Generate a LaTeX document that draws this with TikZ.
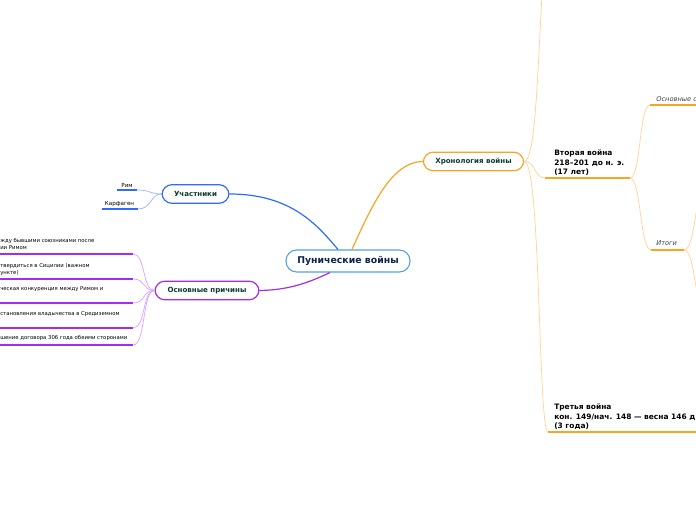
\documentclass[tikz,border=0pt]{standalone}
\usepackage{fontspec}
\setmainfont{DejaVu Sans}
\definecolor{cblue}{HTML}{2F6BFF}
\definecolor{cbluel}{HTML}{9DB8FF}
\definecolor{cpurp}{HTML}{A52BF2}
\definecolor{cpurpl}{HTML}{D9A6FA}
\definecolor{corng}{HTML}{F5A623}
\definecolor{corngl}{HTML}{FDD49A}
\definecolor{ccenter}{HTML}{4DA3E0}
\definecolor{tnavy}{HTML}{0B2350}
\definecolor{tgreen}{HTML}{0E3B30}
\tikzset{
  topic/.style={draw, line width=0.9pt, rounded corners=7.5pt, fill=white, minimum height=14pt, inner xsep=9pt, font=\fontsize{5.3}{6}\selectfont\bfseries},
  leaf/.style={inner sep=0pt, font=\fontsize{4.0}{5.3}\selectfont, align=left},
  bigleaf/.style={inner sep=0pt, font=\fontsize{5.6}{6.8}\selectfont\bfseries, align=left},
  ital/.style={inner sep=0pt, font=\fontsize{5}{6}\selectfont\itshape, text=black!75},
  uline/.style={line width=1.3pt},
  conn/.style={line width=0.55pt},
}
\begin{document}
\begin{tikzpicture}[x=0.75pt,y=-0.75pt]
\useasboundingbox (0,0) rectangle (696,520);
% central
\node[draw=ccenter, line width=0.8pt, rounded corners=8pt, fill=white, minimum width=93pt, minimum height=16.5pt, text=tnavy, font=\fontsize{7}{8}\selectfont\bfseries] (center) at (348,261) {Пунические войны};
% main topics
\node[topic, draw=cblue, text=tgreen, minimum width=49pt] (uch) at (195.5,194) {Участники};
\node[topic, draw=cpurp, text=tgreen, minimum width=78pt] (prich) at (207,290.5) {Основные причины};
\node[topic, draw=corng, text=tgreen, minimum width=74pt] (chron) at (473.5,161.5) {Хронология войны};
% main connectors
\draw[cblue, line width=0.9pt] (center.north -| 338,0) .. controls (318,226) and (292,194) .. (uch.east);
\draw[cpurp, line width=0.9pt] (center.south -| 330,0) .. controls (310,282) and (290,290) .. (prich.east);
\draw[corng, line width=0.9pt] (center.north -| 352,0) .. controls (372,205) and (392,161.5) .. (chron.west);
% participants
\coordinate (rimE) at (137,190);
\coordinate (karE) at (138,209);
\draw[cblue, uline] (117,190) -- (rimE);
\draw[cblue, uline] (102,209) -- (karE);
\node[leaf, font=\fontsize{4.2}{5}\selectfont] (rim) at (127,185) {Рим};
\node[leaf, font=\fontsize{4.2}{5}\selectfont] (kar) at (119.5,204) {Карфаген};
\draw[cbluel, conn] (rimE) .. controls (150,190) and (150,194) .. (uch.west);
\draw[cbluel, conn] (karE) .. controls (152,209) and (150,194) .. (uch.west);
% causes
\node[leaf, anchor=north west] (c1) at (0,238) {жду бывшими союзниками после\\ии Римом};
\node[leaf, anchor=north west] (c2) at (0,263) {твердиться в Сицилии (важном\\ункте)};
\node[leaf, anchor=north west] (c3) at (0,286) {ческая конкуренция между Римом и};
\node[leaf, anchor=north west] (c4) at (0,311) {становления владычества в Средиземном};
\node[leaf, anchor=north west] (c5) at (0,335) {шение договора 306 года обеими сторонами};
\foreach \y/\n in {254/1,279/2,303/3,328/4,345/5}{
  \coordinate (u\n) at (133,\y);
  \draw[cpurp, uline] (-2,\y) -- (u\n);
  \draw[cpurpl, conn] (u\n) .. controls (146,\y) and (142,290.5) .. (prich.west);
}
% chronology children
\coordinate (topchild) at (548,-60);
\draw[corngl, conn] (chron.east) .. controls (540,161.5) and (538,-20) .. (topchild);
\node[bigleaf, anchor=north west] (w2) at (554,150) {Вторая война\\218–201 до н. э.\\(17 лет)};
\coordinate (w2s) at (545,178);
\coordinate (w2e) at (630,178);
\draw[corng, uline] (w2s) -- (w2e);
\draw[corngl, conn] (chron.east) .. controls (536,161.5) and (534,178) .. (w2s);
\node[bigleaf, anchor=north west] (w3) at (554,404) {Третья война\\кон. 149/нач. 148 — весна 146 д\\(3 года)};
\coordinate (w3s) at (548,432);
\draw[corng, uline] (w3s) -- (697,432);
\draw[corngl, conn] (chron.east) .. controls (541,161.5) and (538,432) .. (w3s);
% second war children
\coordinate (oss) at (650,105);
\draw[corng, uline] (oss) -- (697,105);
\node[ital, anchor=base west] (os) at (656,101.5) {Основные с};
\draw[corngl, conn] (w2e) .. controls (641,178) and (639,105) .. (oss);
\coordinate (its) at (651,250);
\coordinate (ite) at (684,250);
\draw[corng, uline] (its) -- (ite);
\node[ital, anchor=base west] (it) at (656,245.5) {Итоги};
\draw[corngl, conn] (w2e) .. controls (641,178) and (640,250) .. (its);
\coordinate (itc1) at (712,175);
\coordinate (itc2) at (712,325);
\draw[corngl, conn] (ite) .. controls (697,250) and (694,175) .. (itc1);
\draw[corngl, conn] (ite) .. controls (697,250) and (694,325) .. (itc2);
\end{tikzpicture}
\end{document}
